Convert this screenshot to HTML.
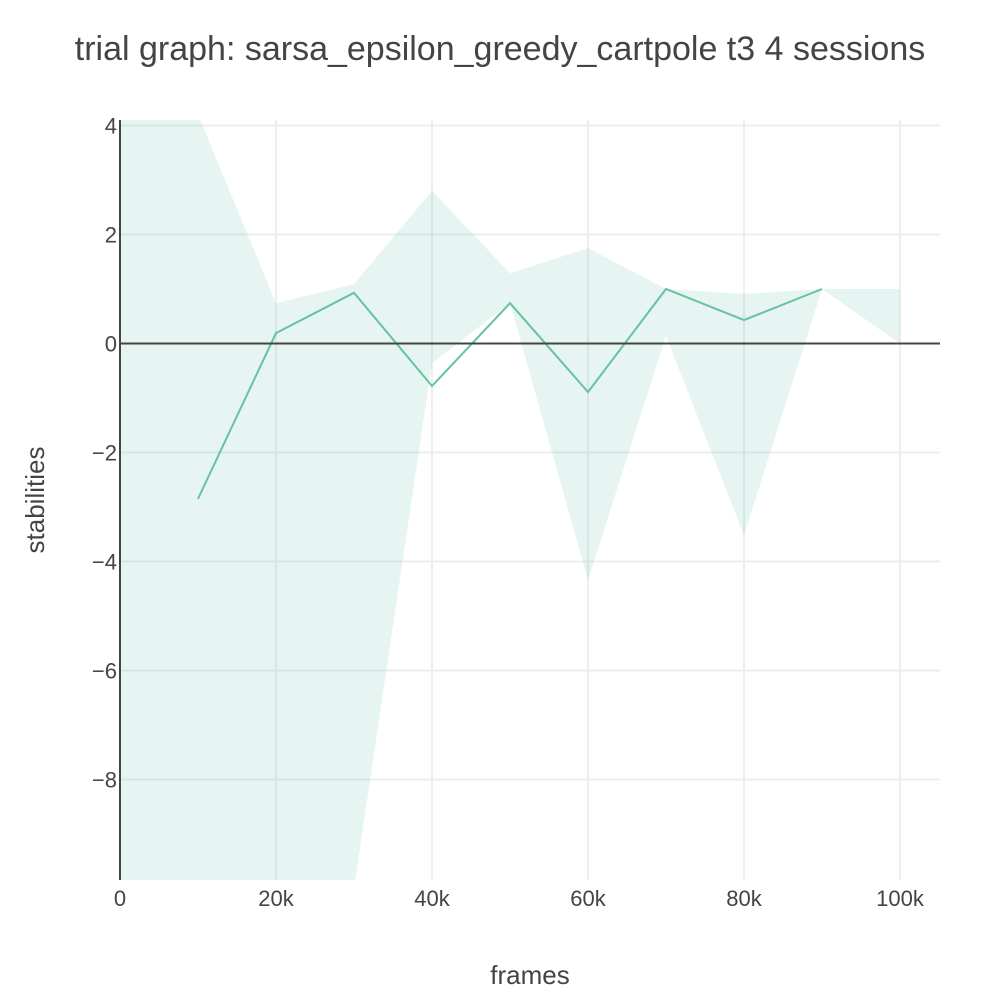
<!DOCTYPE html>
<html><head><meta charset="utf-8"><style>
html,body{margin:0;background:#fff;overflow:hidden;width:1000px;height:1000px;}
svg{display:block;font-family:"Liberation Sans",sans-serif;}
</style></head><body>
<svg id="chart" width="1000" height="1000" xmlns="http://www.w3.org/2000/svg">
<defs><clipPath id="plotclip"><rect x="120" y="120" width="820" height="760"/></clipPath></defs>
<rect width="1000" height="1000" fill="#fff"/>
<text x="500" y="60" text-anchor="middle" font-size="34" fill="#444">trial graph: sarsa_epsilon_greedy_cartpole t3 4 sessions</text>
<g id="grid"></g>
<g id="band" clip-path="url(#plotclip)"></g>
<g id="lines" clip-path="url(#plotclip)"></g>
<g id="axes"></g>
<text x="530" y="984" text-anchor="middle" font-size="26" fill="#444">frames</text>
<text transform="translate(44,500) rotate(-90)" text-anchor="middle" font-size="26" fill="#444">stabilities</text>
</svg>
<script>
const frames = [0,10000,20000,30000,40000,50000,60000,70000,80000,90000,100000];
const upper = [6,4.2,0.74,1.09,2.8,1.29,1.75,1.0,0.91,1.0,1.0];
const lower = [-20,-20,-15,-10,-0.36,0.74,-4.34,0.14,-3.52,1.0,0];
const meanFrames = [10000,20000,30000,40000,50000,60000,70000,80000,90000];
const meanVals = [-2.85,0.19,0.93,-0.78,0.74,-0.89,1.0,0.43,1.0];
const xTicks = [0,20000,40000,60000,80000,100000];
const xTickLabels = ["0","20k","40k","60k","80k","100k"];
const yTicks = [4,2,0,-2,-4,-6,-8];
const yTickLabels = ["4","2","0","\u22122","\u22124","\u22126","\u22128"];
const NS="http://www.w3.org/2000/svg";
const X=v=>120+v/1000*7.8;
const Y=v=>343.5-v*54.5;
function mk(t,a,p){const e=document.createElementNS(NS,t);for(const k in a)e.setAttribute(k,a[k]);p.appendChild(e);return e;}
const grid=document.getElementById('grid'),axes=document.getElementById('axes');
xTicks.forEach((t,i)=>{
 if(t>0){const l=mk('line',{x1:X(t),x2:X(t),y1:120,y2:880,stroke:'#eee','stroke-width':2},grid);
 
 }
 const tx=mk('text',{x:X(t),y:906,'text-anchor':'middle','font-size':22,fill:'#444'},axes);tx.textContent=xTickLabels[i];
 
 
});
yTicks.forEach((t,i)=>{
 if(t!==0){const l=mk('line',{x1:120,x2:940,y1:Y(t),y2:Y(t),stroke:'#eee','stroke-width':2},grid);
 
 }
 const tx=mk('text',{x:117,y:Y(t)+8,'text-anchor':'end','font-size':22,fill:'#444'},axes);tx.textContent=yTickLabels[i];
 
 
});
let pts=frames.map((f,i)=>X(f)+','+Y(upper[i]));
for(let i=frames.length-1;i>=0;i--)pts.push(X(frames[i])+','+Y(lower[i]));
const band=mk('polygon',{points:pts.join(' '),fill:'rgba(102,194,165,0.16)'},document.getElementById('band'));


const z=mk('line',{x1:120,x2:940,y1:Y(0),y2:Y(0),stroke:'#444','stroke-width':2},axes);


const ya=mk('line',{x1:120,x2:120,y1:120,y2:880,stroke:'#444','stroke-width':2},axes);


const ml=mk('polyline',{points:meanFrames.map((f,i)=>X(f)+','+Y(meanVals[i])).join(' '),fill:'none',stroke:'#66c2a5','stroke-width':2},document.getElementById('lines'));


</script>
</body></html>
